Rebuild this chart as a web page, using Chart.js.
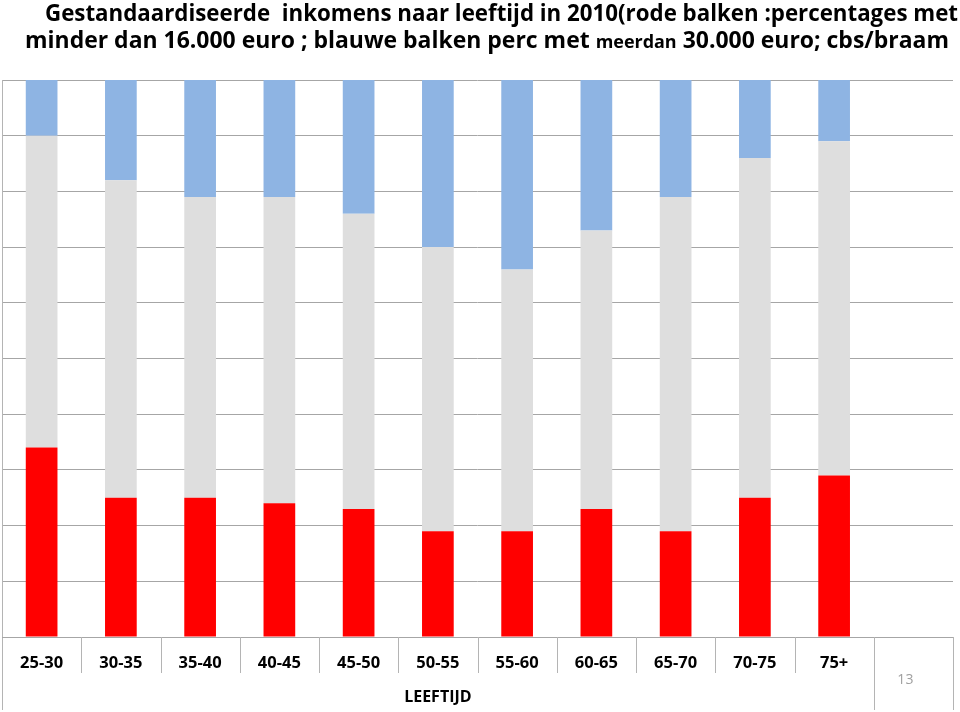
<!DOCTYPE html>
<html>
<head>
<meta charset="utf-8">
<script src="https://cdn.jsdelivr.net/npm/chart.js@4.4.1/dist/chart.umd.min.js"></script>
<style>
  html, body { margin: 0; padding: 0; background: #fff; }
  canvas { display: block; }
</style>
</head>
<body>
<canvas id="myCanvas" width="960" height="712"></canvas>
<script>
// leeftijdsklassen (laatste kolom leeg, zoals in het origineel)
const categories = ['25-30', '30-35', '35-40', '40-45', '45-50', '50-55', '55-60', '60-65', '65-70', '70-75', '75+', ''];
// percentages
const minderDan16000 = [34, 25, 25, 24, 23, 19, 19, 23, 19, 25, 29];
const tussenIn = [56, 57, 54, 55, 53, 51, 47, 50, 60, 61, 60];
const meerDan30000 = [10, 18, 21, 21, 24, 30, 34, 27, 21, 14, 11];
const yTicks = [0, 10, 20, 30, 40, 50, 60, 70, 80, 90, 100];

const titleLine1 = [['Gestandaardiseerde  inkomens naar leeftijd in 2010(rode balken :percentages met', 23]];
const titleLine2 = [['minder dan 16.000 euro ; blauwe balken perc met ', 23], ['meerdan', 18], [' 30.000 euro; cbs/braam', 23]];
const axisTitle = 'LEEFTIJD';
const pageNr = '13';

const fontFam = '"Open Sans", "DejaVu Sans", sans-serif';

function drawFitted(ctx, segs, x0, x1, baseline) {
    let w = 0;
    segs.forEach(s => {
        ctx.font = 'bold ' + s[1] + 'px ' + fontFam;
        w += ctx.measureText(s[0]).width;
    });
    const k = (x1 - x0) / w;
    ctx.save();
    ctx.translate(x0, baseline);
    ctx.scale(k, 1);
    ctx.fillStyle = '#000';
    ctx.textBaseline = 'alphabetic';
    ctx.textAlign = 'left';
    let x = 0;
    segs.forEach(s => {
        ctx.font = 'bold ' + s[1] + 'px ' + fontFam;
        ctx.fillText(s[0], x, 0);
        x += ctx.measureText(s[0]).width;
    });
    ctx.restore();
}

const decorations = {
    id: 'decorations',
    afterDraw(chart) {
        const ctx = chart.ctx;
        const area = chart.chartArea;
        const xs = chart.scales.x;
        const n = categories.length;
        const step = (area.right - area.left) / n;

        // titel
        drawFitted(ctx, titleLine1, 45, 958, 21);
        drawFitted(ctx, titleLine2, 25, 949, 48);

        ctx.save();
        ctx.strokeStyle = '#b4b4b4';
        ctx.lineWidth = 1;
        // linker rand
        ctx.beginPath();
        ctx.moveTo(area.left + 0.5, area.top);
        ctx.lineTo(area.left + 0.5, 710);
        ctx.stroke();
        // x-as lijn
        ctx.strokeStyle = '#a6a6a6';
        ctx.beginPath();
        ctx.moveTo(area.left, area.bottom + 0.5);
        ctx.lineTo(area.right, area.bottom + 0.5);
        ctx.stroke();
        // scheidingsstreepjes tussen categorieen
        ctx.strokeStyle = '#b4b4b4';
        for (let i = 1; i <= n; i++) {
            const x = Math.round(xs.getPixelForValue(i - 1) + step / 2) + 0.5;
            const end = (i >= n - 1) ? 710 : 673;
            ctx.beginPath();
            ctx.moveTo(x, area.bottom);
            ctx.lineTo(x, end);
            ctx.stroke();
        }
        ctx.restore();

        // as-titel en paginanummer
        ctx.save();
        ctx.textAlign = 'center';
        ctx.textBaseline = 'middle';
        ctx.fillStyle = '#000';
        ctx.font = 'bold 16px ' + fontFam;
        const midX = (area.left + xs.getPixelForValue(n - 2) + step / 2) / 2;
        ctx.fillText(axisTitle, midX, 697);
        ctx.fillStyle = '#a0a0a0';
        ctx.font = '14px ' + fontFam;
        ctx.fillText(pageNr, xs.getPixelForValue(n - 1) - 8, 680);
        ctx.restore();
    }
};

const dataConfig = {
    labels: categories,
    datasets: [{
        label: 'minder dan 16.000 euro',
        backgroundColor: 'rgb(255,0,0)',
        data: minderDan16000
    }, {
        label: 'tussen 16.000 en 30.000 euro',
        backgroundColor: 'rgb(222,222,222)',
        data: tussenIn
    }, {
        label: 'meer dan 30.000 euro',
        backgroundColor: 'rgb(142,180,227)',
        data: meerDan30000
    }]
};

const config = {
    type: 'bar',
    data: dataConfig,
    options: {
        responsive: false,
        animation: false,
        barPercentage: 0.4,
        categoryPercentage: 1,
        layout: { padding: { top: 80, right: 7, left: 0, bottom: 0 } },
        plugins: {
            legend: { display: false },
            tooltip: { enabled: false }
        },
        scales: {
            x: {
                stacked: true,
                grid: { display: false, drawTicks: false },
                border: { display: false },
                ticks: {
                    color: '#000',
                    font: { family: fontFam, size: 16.5, weight: 'bold' },
                    padding: 16,
                    maxRotation: 0,
                    autoSkip: false
                },
                afterFit(scale) { scale.height = 75; }
            },
            y: {
                stacked: true,
                min: 0,
                max: 100,
                afterBuildTicks(scale) { scale.ticks = yTicks.map(v => ({ value: v })); },
                ticks: { display: false },
                grid: { color: '#a6a6a6', drawTicks: false },
                border: { display: false },
                afterFit(scale) { scale.width = 2; }
            }
        }
    },
    plugins: [decorations]
};

const myChart = new Chart(document.getElementById('myCanvas'), config);
</script>
</body>
</html>
